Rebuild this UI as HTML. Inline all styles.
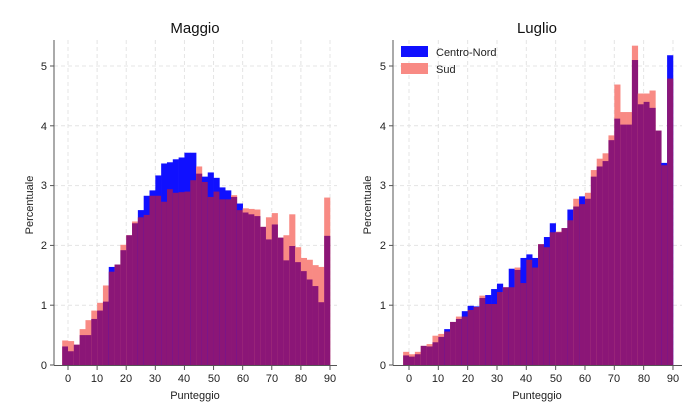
<!DOCTYPE html>
<html><head><meta charset="utf-8"><style>
html,body{margin:0;padding:0;background:#fff;}
svg{display:block;font-family:"Liberation Sans",Arial,sans-serif;}
</style></head><body>
<svg id="s" width="700" height="420" viewBox="0 0 700 420" xmlns="http://www.w3.org/2000/svg">
<rect width="700" height="420" fill="#fff"/>
<g id="grid" stroke="#e4e4e4" stroke-width="1" stroke-dasharray="4,3"></g>
<g id="bars"></g>
<g stroke="#555" stroke-width="1" fill="none">
<line x1="54" y1="40" x2="54" y2="365.5"/><line x1="54" y1="365.5" x2="337" y2="365.5"/>
<line x1="393" y1="40" x2="393" y2="365.5"/><line x1="393" y1="365.5" x2="682" y2="365.5"/>
</g>
<g id="ticks" stroke="#555" stroke-width="1"></g>
<g font-size="11" fill="#222" text-anchor="end">
<text x="47" y="369">0</text><text x="47" y="309">1</text><text x="47" y="249">2</text><text x="47" y="189">3</text><text x="47" y="130">4</text><text x="47" y="70">5</text>
<text x="386" y="369">0</text><text x="386" y="309">1</text><text x="386" y="249">2</text><text x="386" y="189">3</text><text x="386" y="130">4</text><text x="386" y="70">5</text>
</g>
<g font-size="11" fill="#222" text-anchor="middle">
<text x="68" y="382">0</text><text x="97" y="382">10</text><text x="126" y="382">20</text><text x="155" y="382">30</text><text x="184" y="382">40</text><text x="214" y="382">50</text><text x="243" y="382">60</text><text x="272" y="382">70</text><text x="301" y="382">80</text><text x="330" y="382">90</text>
<text x="409" y="382">0</text><text x="438" y="382">10</text><text x="468" y="382">20</text><text x="497" y="382">30</text><text x="526" y="382">40</text><text x="556" y="382">50</text><text x="585" y="382">60</text><text x="614" y="382">70</text><text x="644" y="382">80</text><text x="673" y="382">90</text>
<text x="195" y="399">Punteggio</text><text x="537" y="399">Punteggio</text>
<text transform="translate(33,205) rotate(-90)">Percentuale</text>
<text transform="translate(371,205) rotate(-90)">Percentuale</text>
</g>
<g font-size="15" fill="#111" text-anchor="middle">
<text x="195" y="33">Maggio</text><text x="537" y="33">Luglio</text>
</g>
<rect x="401" y="46" width="27" height="11" fill="#1010ff"/>
<rect x="401" y="63" width="27" height="11" fill="#f88a84"/>
<g font-size="11" fill="#222"><text x="436" y="56">Centro-Nord</text><text x="436" y="73">Sud</text></g>
</svg>
<script>
var L=[[.31,.41],[.23,.40],[.34,.34],[.5,.6],[.5,.75],[.77,.91],[.91,1.04],[1.06,1.33],[1.64,1.56],[1.68,1.68],[1.92,2.01],[2.17,2.17],[2.37,2.4],[2.59,2.47],[2.83,2.51],[2.92,2.83],[3.17,2.83],[3.37,2.73],[3.39,2.94],[3.44,2.88],[3.47,2.89],[3.55,2.9],[3.55,3.09],[3.2,3.32],[3.15,3.06],[3.22,2.81],[3.13,2.9],[2.97,2.77],[2.92,2.77],[2.81,2.84],[2.70,2.59],[2.55,2.62],[2.52,2.61],[2.49,2.6],[2.31,2.31],[2.1,2.47],[2.35,2.54],[2.13,2.13],[1.75,2.17],[1.99,2.52],[1.72,1.97],[1.57,1.79],[1.43,1.76],[1.32,1.67],[1.05,1.64],[2.16,2.8]];
var R=[[.16,.22],[.14,.18],[.18,.22],[.32,.32],[.31,.35],[.38,.49],[.47,.52],[.6,.56],[.72,.72],[.77,.81],[.9,.81],[.99,.92],[.98,.97],[1.12,1.16],[1.17,1.02],[1.27,1.02],[1.36,1.22],[1.3,1.3],[1.61,1.3],[1.59,1.63],[1.79,1.37],[1.85,1.76],[1.79,1.63],[2.02,2.02],[2.14,1.97],[2.37,2.22],[2.22,2.23],[2.29,2.29],[2.6,2.42],[2.65,2.78],[2.82,2.69],[2.78,2.88],[3.15,3.26],[3.32,3.45],[3.41,3.54],[3.76,3.84],[4.12,4.69],[4.02,4.23],[4.02,4.23],[5.1,5.34],[4.36,4.54],[4.4,4.54],[4.3,4.59],[3.92,3.92],[3.38,3.34],[5.18,4.79]];
var NS="http://www.w3.org/2000/svg",b=document.getElementById('bars'),g=document.getElementById('grid'),t=document.getElementById('ticks');
function el(p,n,a){var e=document.createElementNS(NS,n);for(var k in a)e.setAttribute(k,a[k]);p.appendChild(e);}
function Y(v){return 365-v*59.8;}
function draw(D,x0,s,xl,xr){
 for(var v=0;v<=90;v+=10){var x=x0+v*s;el(g,'line',{x1:x,y1:40,x2:x,y2:365});el(t,'line',{x1:x,y1:365.5,x2:x,y2:370});}
 for(var k=1;k<=5;k++){el(g,'line',{x1:xl,y1:Y(k),x2:xr,y2:Y(k)});}
 for(var k=0;k<=5;k++){el(t,'line',{x1:xl-4,y1:Y(k),x2:xl,y2:Y(k)});}
 D.forEach(function(d,i){var xa=x0+(-2+2*i)*s,w=2*s+0.3,cn=d[0],sd=d[1],mx=Math.max(cn,sd),mn=Math.min(cn,sd);
  el(b,'rect',{x:xa,y:Y(mx),width:w,height:365-Y(mx),fill:cn>sd?'#1010ff':'#f88a84'});
  el(b,'rect',{x:xa,y:Y(mn),width:w,height:365-Y(mn),fill:'#8b1677'});});
}
draw(L,68,2.911,54,337);draw(R,409,2.933,393,682);
</script>
</body></html>
